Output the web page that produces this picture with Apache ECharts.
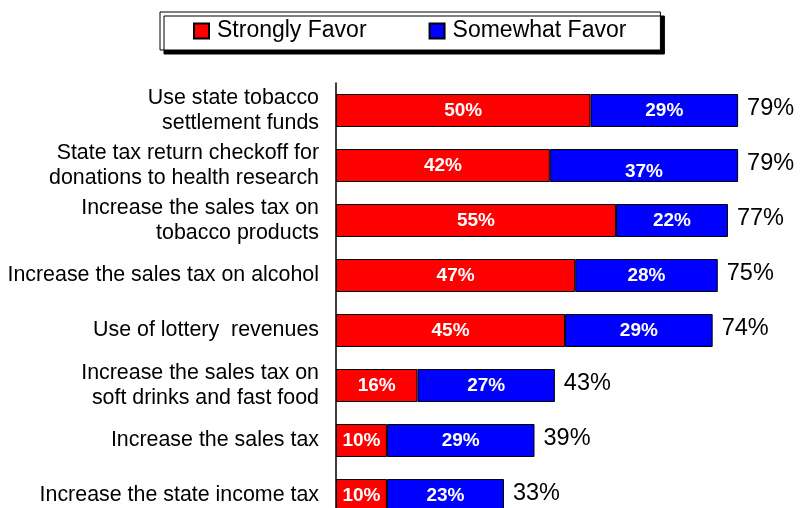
<!DOCTYPE html>
<html>
<head>
<meta charset="utf-8">
<script src="https://cdn.jsdelivr.net/npm/echarts@6/dist/echarts.min.js"></script>
<style>
html,body{margin:0;padding:0;background:#fff;}
#chart{width:809px;height:508px;}
</style>
</head>
<body>
<div id="chart"></div>
<script>
const categories = [
  'Use state tobacco\nsettlement funds',
  'State tax return checkoff for\ndonations to health research',
  'Increase the sales tax on\ntobacco products',
  'Increase the sales tax on alcohol',
  'Use of lottery  revenues',
  'Increase the sales tax on\nsoft drinks and fast food',
  'Increase the sales tax',
  'Increase the state income tax'
];
const stronglyFavor = [50, 42, 55, 47, 45, 16, 10, 10];
const somewhatFavor = [29, 37, 22, 28, 29, 27, 29, 23];
const totals = [79, 79, 77, 75, 74, 43, 39, 33];

const FONT = '"Liberation Sans", Arial, sans-serif';
const chart = echarts.init(document.getElementById('chart'), null, {renderer: 'canvas'});

const innerLabel = {
  show: true, position: 'inside', color: '#fff', fontWeight: 'bold',
  fontSize: 19, fontFamily: FONT, formatter: p => p.value + '%'
};

chart.setOption({
  animation: false,
  legend: {
    data: ['Strongly Favor', 'Somewhat Favor'],
    left: 160, top: 12,
    padding: [6, 34, 6, 33],
    itemWidth: 15, itemHeight: 15, itemGap: 62,
    icon: 'rect',
    backgroundColor: '#fff',
    borderColor: '#000', borderWidth: 1, borderRadius: 0,
    shadowColor: '#000', shadowBlur: 0, shadowOffsetX: 4, shadowOffsetY: 4,
    textStyle: {fontSize: 23, fontFamily: FONT, color: '#000', lineHeight: 24, padding: [2, 0, 0, 3]}
  },
  grid: {left: 336, top: 83, width: 509, height: 440, outerBoundsMode: 'none', containLabel: false},
  xAxis: {type: 'value', min: 0, max: 100, show: false, splitLine: {show: false}},
  yAxis: {
    type: 'category', data: categories, inverse: true,
    axisLine: {show: true, lineStyle: {color: '#000', width: 1.5}},
    axisTick: {show: false},
    axisLabel: {fontSize: 21.4, fontFamily: FONT, color: '#000', margin: 17, lineHeight: 25, align: 'right'}
  },
  series: [
    {
      name: 'Strongly Favor', type: 'bar', stack: 'a', barWidth: 33,
      data: stronglyFavor,
      itemStyle: {color: '#ff0000', borderColor: '#000', borderWidth: 1},
      label: innerLabel
    },
    {
      name: 'Somewhat Favor', type: 'bar', stack: 'a', barWidth: 33,
      data: somewhatFavor.map((v, i) => i === 1 ? {value: v, label: {offset: [0, 6]}} : v),
      itemStyle: {color: '#0000ff', borderColor: '#000', borderWidth: 1},
      label: innerLabel
    },
    {
      name: 'Total', type: 'bar', stack: 'a', barWidth: 33,
      data: totals.map(() => 0),
      itemStyle: {color: 'transparent', borderWidth: 0},
      label: {
        show: true, position: 'right', distance: 9, color: '#000',
        fontSize: 23.5, fontFamily: FONT, offset: [0, -2],
        formatter: p => totals[p.dataIndex] + '%'
      },
      silent: true
    }
  ]
});
</script>
</body>
</html>
